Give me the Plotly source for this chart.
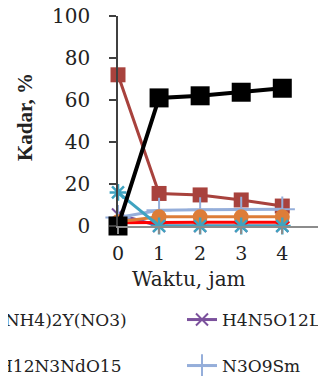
import plotly.graph_objects as go

# ---- data ----
waktu = [0, 1, 2, 3, 4]
hitam = [0, 61, 62, 63.7, 65.6]
coklat = [72, 15.5, 14.8, 12.4, 9.5]
ungu_H4N5O12La = [5.5, 0, 0, 0, 0]
merah = [1.5, 1.8, 1.8, 1.8, 1.8]
biru_N3O9Sm = [4, 7.5, 7.7, 7.9, 8]
oranye_H12N3NdO15 = [2, 4.4, 4.4, 4.4, 4.4]
tosca_NH4_2Y_NO3 = [16, 0, 0, 0, 0]

x_ticks = [0, 1, 2, 3, 4, 5]
y_ticks = [0, 20, 40, 60, 80, 100]

SERIF = "DejaVu Serif"
fig = go.Figure()

fig.add_trace(go.Scatter(x=waktu, y=coklat, name="Seri 2", mode="lines+markers",
                         line=dict(color="#A8423D", width=3), cliponaxis=False,
                         marker=dict(symbol="square", size=15, color="#A8423D"),
                         showlegend=False))
fig.add_trace(go.Scatter(x=waktu, y=ungu_H4N5O12La, name="H4N5O12La", mode="lines+markers",
                         line=dict(color="#7B519C", width=3), cliponaxis=False,
                         marker=dict(symbol="x-thin", size=12, line=dict(color="#7B519C", width=2)),
                         legend="legend2"))
fig.add_trace(go.Scatter(x=waktu, y=merah, name="Seri merah", mode="lines+markers",
                         line=dict(color="#FF0000", width=3), cliponaxis=False,
                         marker=dict(symbol="diamond", size=12, color="#FF0000"),
                         showlegend=False))
fig.add_trace(go.Scatter(x=waktu, y=biru_N3O9Sm, name="N3O9Sm", mode="lines+markers",
                         line=dict(color="#95AEDA", width=3), cliponaxis=False,
                         marker=dict(symbol="cross-thin", size=18, line=dict(color="#95AEDA", width=2)),
                         legend="legend4"))
fig.add_trace(go.Scatter(x=waktu, y=oranye_H12N3NdO15, name="H12N3NdO15", mode="lines+markers",
                         line=dict(color="#DD7D38", width=3), cliponaxis=False,
                         marker=dict(symbol="circle", size=15, color="#DD7D38"),
                         legend="legend3"))
fig.add_trace(go.Scatter(x=waktu, y=tosca_NH4_2Y_NO3, name="(NH4)2Y(NO3)", mode="lines+markers",
                         line=dict(color="#3FA3C0", width=3), cliponaxis=False,
                         marker=dict(symbol="asterisk-open", size=14, line=dict(color="#3FA3C0", width=2.5)),
                         legend="legend"))
fig.add_trace(go.Scatter(x=waktu, y=hitam, name="Seri hitam", mode="lines+markers",
                         line=dict(color="#000000", width=4), cliponaxis=False,
                         marker=dict(symbol="square", size=19, color="#000000"),
                         showlegend=False))

# page body adds an 8px offset; figure coords = window coords - 8
W, H = 318, 368
L, T = 110, 8
XMAX = 5.04
pw, ph = round(205 * XMAX / 5), 210
R = W - L - pw
B = H - T - ph

def px_x(p):
    return (p - L) / pw

def px_y(p):
    return (H - B - p) / ph

leg_font = dict(family=SERIF, size=17, color="#222222")
common = dict(orientation="v", xanchor="left", yanchor="middle", font=leg_font,
              bgcolor="rgba(0,0,0,0)", borderwidth=0, itemwidth=30)

fig.update_layout(
    width=W, height=H,
    margin=dict(l=L, r=R, t=T, b=B, autoexpand=False),
    paper_bgcolor="white", plot_bgcolor="white",
    font=dict(family=SERIF, size=20, color="#222222"),
    legend=dict(x=px_x(-50), y=px_y(312), **common),
    legend2=dict(x=px_x(174), y=px_y(312), **common),
    legend3=dict(x=px_x(-50), y=px_y(358), **common),
    legend4=dict(x=px_x(174), y=px_y(358), **common),
    xaxis=dict(range=[0, XMAX], tickvals=x_ticks, ticktext=[str(v) for v in x_ticks],
               showline=True, linecolor="#8C8C8C", linewidth=1.5,
               ticks="outside", ticklen=6, tickcolor="#8C8C8C", tickwidth=1.5,
               showgrid=False, zeroline=False, ticklabelstandoff=3,
               ticklabeloverflow="allow",
               tickfont=dict(family=SERIF, size=19, color="#222222")),
    yaxis=dict(range=[0, 100], tickvals=y_ticks, ticktext=[str(v) for v in y_ticks],
               showline=True, linecolor="#404040", linewidth=1.5,
               ticks="outside", ticklen=7, tickcolor="#404040", tickwidth=1.5,
               showgrid=False, zeroline=False, ticklabelstandoff=15,
               ticklabeloverflow="allow",
               tickfont=dict(family=SERIF, size=20, color="#222222")),
    annotations=[
        dict(text="Waktu, jam", x=px_x(181), y=px_y(271), xref="paper", yref="paper",
             showarrow=False, xanchor="center", yanchor="middle",
             font=dict(family=SERIF, size=20, color="#222222")),
        dict(text="<b>Kadar, %</b>", x=px_x(17), y=px_y(109), xref="paper", yref="paper",
             showarrow=False, xanchor="center", yanchor="middle", textangle=-90,
             font=dict(family="Liberation Serif", size=21, color="#222222")),
    ],
)

fig.write_html("out.html")
